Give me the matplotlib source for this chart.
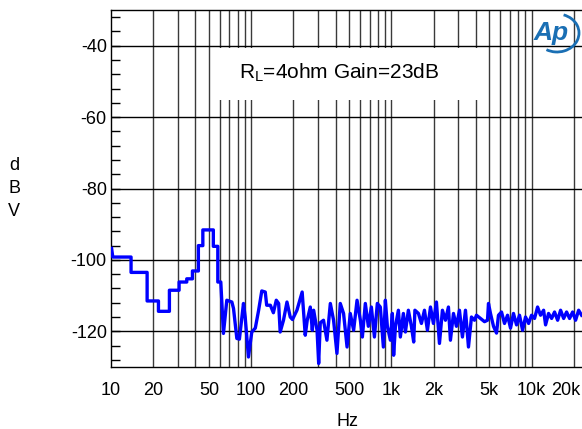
import matplotlib
matplotlib.use("Agg")
import matplotlib.pyplot as plt
from matplotlib.patches import Rectangle, Arc
from matplotlib.ticker import FixedLocator, NullLocator
import matplotlib.transforms as mtransforms

plt.rcParams['font.family'] = ['Liberation Sans', 'DejaVu Sans']
plt.rcParams['axes.unicode_minus'] = False

# ---- data ----
freq_hz = [10.1, 10.3, 13.9, 13.9, 18.1, 18.1, 21.8, 21.8, 26.1, 26.1,
           30.6, 30.6, 34.7, 34.7, 38.1, 38.1, 42.0, 42.0, 45.2, 45.2,
           53.7, 53.7, 57.8, 57.8, 60.7, 63.4, 67.0, 72.8, 74.8, 79.0,
           82.4, 88.1, 90.6, 95.6, 101, 107, 113, 119, 126, 129,
           137, 144, 151, 157, 161, 170, 180, 190, 197, 212,
           231, 243, 251, 264, 273, 279, 295, 303, 311, 328,
           347, 367, 387, 409, 432, 456, 483, 509, 538, 569,
           601, 621, 652, 685, 720, 757, 794, 834, 877, 906,
           936, 984, 1016, 1038, 1069, 1122, 1159, 1218, 1259, 1322,
           1389, 1443, 1472, 1560, 1638, 1722, 1808, 1901, 1995, 2096,
           2203, 2313, 2431, 2553, 2638, 2773, 2911, 3059, 3213, 3377,
           3548, 3727, 3917, 4047, 4325, 4616, 4850, 4929, 5093, 5353,
           5623, 5808, 6105, 6412, 6740, 7079, 7430, 7813, 8204, 8630,
           9057, 9528, 10000, 10500, 11040, 11590, 12190, 12590, 13220, 13900,
           14590, 15350, 16110, 16940, 17780, 18670, 19630, 20610, 21670, 22750]
level_dbv = [-96.8, -99.2, -99.2, -103.5, -103.5, -111.5, -111.5, -114.4, -114.4, -108.5,
             -108.5, -106.2, -106.2, -105.3, -105.3, -103.1, -103.1, -96.0, -96.0, -91.6,
             -91.6, -96.2, -96.2, -106.2, -106.2, -120.6, -111.3, -111.8, -113.6, -122.0,
             -122.2, -112.2, -116.0, -127.2, -120.2, -119.1, -114.1, -108.7, -109.0, -112.7,
             -112.7, -114.8, -111.3, -112.2, -120.2, -116.9, -111.8, -116.0, -116.7, -114.1,
             -109.0, -121.1, -116.9, -113.2, -119.7, -114.1, -119.7, -129.0, -117.6, -116.9,
             -122.5, -112.2, -116.9, -126.2, -112.2, -115.0, -124.4, -115.0, -119.7, -111.3,
             -116.9, -121.6, -112.2, -118.6, -113.2, -121.6, -112.2, -113.2, -124.4, -111.3,
             -118.6, -122.5, -115.0, -126.7, -118.6, -114.1, -121.6, -115.0, -120.2, -114.1,
             -118.6, -123.0, -114.1, -115.0, -117.8, -114.1, -119.7, -113.2, -117.8, -111.8,
             -123.4, -114.1, -116.9, -113.2, -122.5, -115.0, -118.6, -114.1, -121.6, -114.1,
             -124.4, -116.0, -116.9, -115.5, -116.4, -117.3, -116.9, -112.2, -115.0, -118.6,
             -120.5, -115.5, -114.6, -117.8, -115.5, -119.1, -115.0, -118.2, -115.5, -119.7,
             -116.0, -117.8, -115.5, -116.4, -113.2, -115.5, -114.1, -118.2, -115.0, -116.4,
             -114.6, -116.9, -114.1, -116.4, -114.6, -116.4, -114.6, -116.9, -114.1, -115.5]

x_tick_values = [10, 20, 50, 100, 200, 500, 1000, 2000, 5000, 10000, 20000]
x_tick_labels = ['10', '20', '50', '100', '200', '500', '1k', '2k', '5k', '10k', '20k']
x_grid_values = [20, 30, 40, 50, 60, 70, 80, 90,
                 100, 200, 300, 400, 500, 600, 700, 800, 900,
                 1000, 2000, 3000, 4000, 5000, 6000, 7000, 8000, 9000,
                 10000, 20000]
y_tick_values = [-40, -60, -80, -100, -120]
y_minor_values = [-32, -36, -44, -48, -52, -56, -64, -68, -72, -76, -84, -88,
                  -92, -96, -104, -108, -112, -116, -124, -128]
annotation = r'$\mathregular{R_L}$=4ohm Gain=23dB'

# ---- figure ----
W, H = 582, 429
fig = plt.figure(figsize=(W / 100, H / 100), dpi=100)
ax = fig.add_axes([111 / W, 1 - 367 / H, (582 - 111) / W, (367 - 10) / H])

ax.set_xscale('log')
ax.set_xlim(10, 22900)
ax.set_ylim(-130, -30)

for xv in x_grid_values:
    ax.axvline(xv, color='#3a3a3a', lw=1.0, zorder=1)
for yv in y_tick_values:
    ax.axhline(yv, color='black', lw=1.0, zorder=1)

# white box behind annotation
ax.add_patch(Rectangle((106 / 471, 1 - 90 / 357), 268 / 471, 52 / 357,
                       transform=ax.transAxes, facecolor='white',
                       edgecolor='none', zorder=2))
ax.text(339 / W, 1 - 73 / H, annotation, transform=fig.transFigure,
        ha='center', va='center', fontsize=15, zorder=3)

ax.plot(freq_hz, level_dbv, color='#0000ff', lw=2.4, zorder=4,
        solid_joinstyle='round')

ax.xaxis.set_major_locator(FixedLocator(x_tick_values))
ax.xaxis.set_minor_locator(NullLocator())
ax.set_xticklabels(x_tick_labels)
ax.tick_params(axis='x', which='both', length=0, pad=11, labelsize=13)
# last label sits against the right edge, as in the reference
last = ax.get_xticklabels()[-1]
last.set_transform(last.get_transform() +
                   mtransforms.ScaledTranslation(-8 / 100, 0, fig.dpi_scale_trans))

ax.yaxis.set_major_locator(FixedLocator(y_tick_values))
ax.yaxis.set_minor_locator(FixedLocator(y_minor_values))
ax.tick_params(axis='y', which='both', direction='in', length=6.5,
               width=1.0, pad=3, labelsize=13)

for s in ['left', 'bottom', 'top']:
    ax.spines[s].set_linewidth(1.0)
    ax.spines[s].set_color('black')
ax.spines['right'].set_visible(False)

# axis labels
fig.text(348 / W, 1 - 422 / H, 'Hz', ha='center', va='center', fontsize=13)
for i, ch in enumerate(['d', 'B', 'V']):
    fig.text(14 / W, 1 - (165 + 23 * i) / H, ch, ha='center', va='center',
             fontsize=13)

# AP logo
logo_color = '#1a6fb4'
fig.text(551 / W, 1 - 33 / H, 'Ap', ha='center', va='center', fontsize=19,
         fontstyle='italic', fontweight='bold', color=logo_color, zorder=5)
fig.add_artist(Arc((557 / W, 1 - 33 / H), 44 / W, 38 / H, theta1=-115,
                   theta2=75, color=logo_color, lw=2.0,
                   transform=fig.transFigure))

fig.savefig('out.png', dpi=100)
